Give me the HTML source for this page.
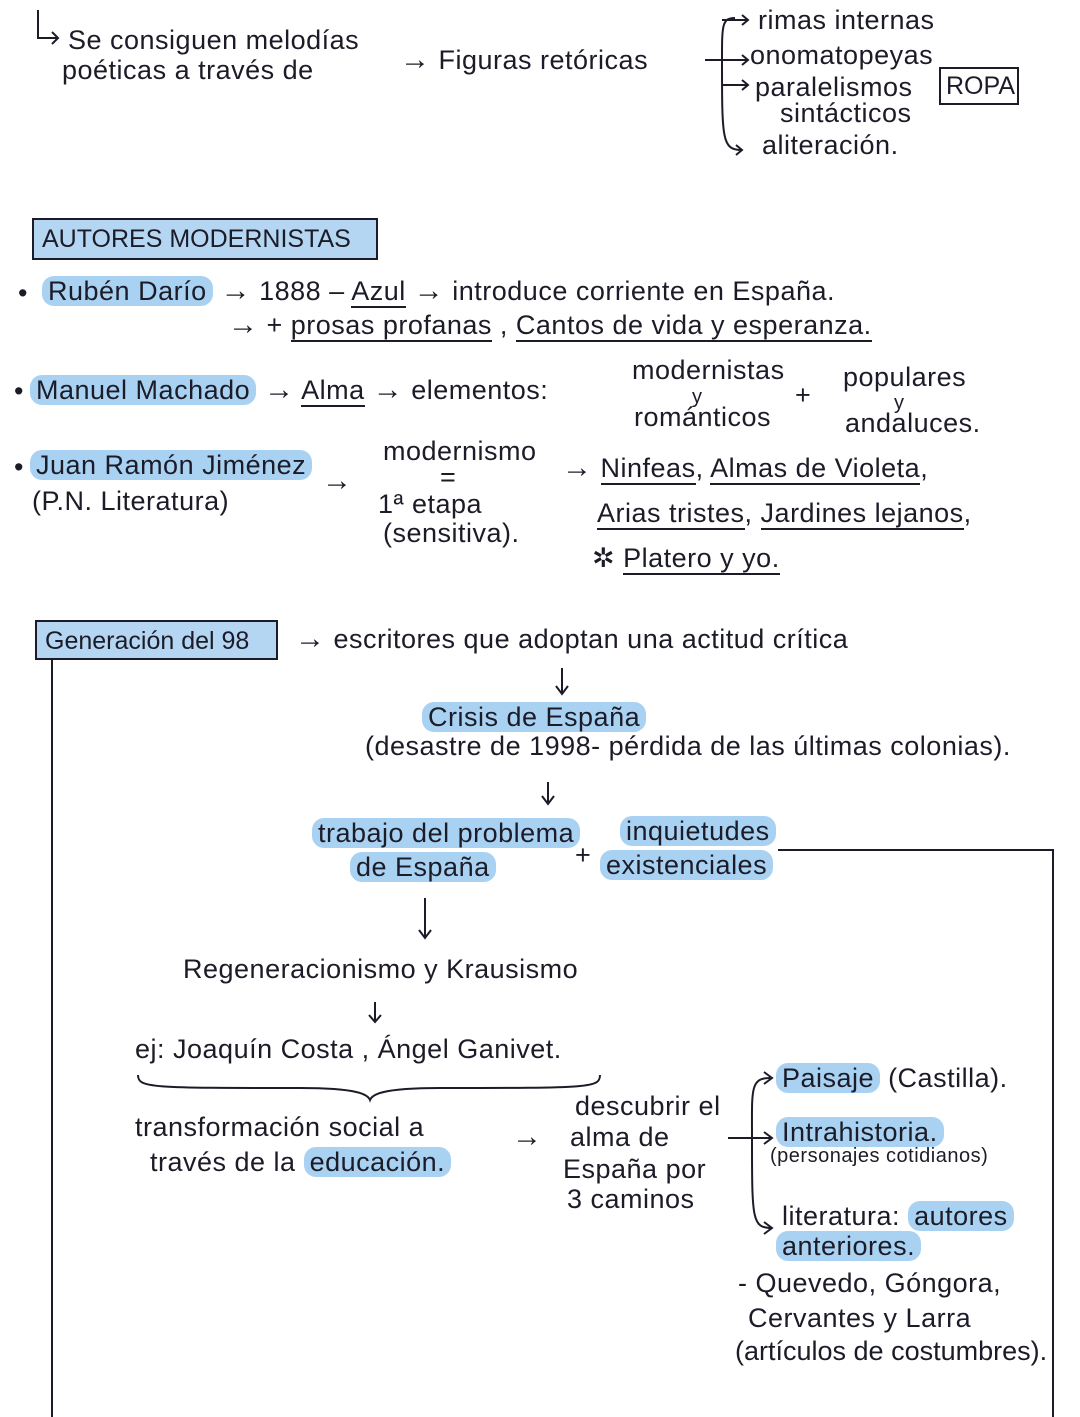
<!DOCTYPE html>
<html><head><meta charset="utf-8"><style>
html,body{margin:0;padding:0;background:#fff;}
body{width:1080px;height:1417px;position:relative;overflow:hidden;font-family:"Liberation Sans",sans-serif;color:#1c1c28;}
.t{position:absolute;font-size:27px;line-height:30px;white-space:nowrap;letter-spacing:0.5px;}
.s{font-size:20px;}
.h{background:#a9d2f2;border-radius:12px;padding:0 6px;}
.u{border-bottom:2px solid #1c1c28;}
.a{font-size:30px;}
.box{position:absolute;border:2px solid #1c1c28;background:#b5d6f2;font-size:25px;line-height:38px;padding:0 8px;box-sizing:border-box;}
svg{position:absolute;left:0;top:0;}
</style></head><body>
<svg width="1080" height="1417" fill="none" stroke="#1c1c28" stroke-width="2">
<path d="M38 10 V38 H58 M52 32 L58 38 L52 44"/>
<path d="M735 18 C722 18 722 25 722 60 C722 140 722 150 742 150"/>
<path d="M705 60 H748 M722 20 H748 M722 85 H748"/>
<path d="M742 15 L748 20 L742 25 M742 55 L748 60 L742 65 M742 80 L748 85 L742 90 M736 145 L742 150 L736 155"/>
<rect x="940" y="68" width="78" height="36"/>
<path d="M52 660 V1417"/>
<path d="M778 850 H1053 V1417"/>
<path d="M562 668 V694 M556 686 L562 694 L568 686"/>
<path d="M548 782 V804 M542 796 L548 804 L554 796"/>
<path d="M425 898 V938 M419 930 L425 938 L431 930"/>
<path d="M375 1002 V1022 M369 1015 L375 1022 L381 1015"/>
<path d="M138 1075 C138 1088 150 1088 300 1088 C360 1088 368 1095 370 1100 C372 1095 380 1088 440 1088 C590 1088 600 1088 600 1075"/>
<path d="M770 1078 C750 1078 752 1090 752 1138 C752 1220 752 1228 772 1228 M728 1138 H772"/>
<path d="M764 1072 L772 1078 L764 1084 M764 1132 L772 1138 L764 1144 M764 1222 L772 1228 L764 1234"/>
</svg>

<div class="t" style="left:68px;top:25px">Se consiguen melodías</div>
<div class="t" style="left:62px;top:55px">poéticas a través de</div>
<div class="t" style="left:400px;top:45px"><span class="a">→</span> Figuras retóricas</div>
<div class="t" style="left:758px;top:5px">rimas internas</div>
<div class="t" style="left:750px;top:40px">onomatopeyas</div>
<div class="t" style="left:755px;top:72px">paralelismos</div>
<div class="t" style="left:780px;top:98px">sintácticos</div>
<div class="t" style="left:762px;top:130px">aliteración.</div>
<div class="t" style="left:946px;top:71px;font-size:25px;letter-spacing:0">ROPA</div>

<div class="box" style="left:32px;top:218px;width:346px;height:42px">AUTORES MODERNISTAS</div>

<div class="t" style="left:18px;top:278px">•</div>
<div class="t" style="left:42px;top:276px"><span class="h">Rubén Darío</span> <span class="a">→</span> 1888 – <span class="u">Azul</span> <span class="a">→</span> introduce corriente en España.</div>
<div class="t" style="left:228px;top:310px"><span class="a">→</span> + <span class="u">prosas profanas</span> , <span class="u">Cantos de vida y esperanza.</span></div>

<div class="t" style="left:14px;top:376px">•</div>
<div class="t" style="left:30px;top:375px"><span class="h">Manuel Machado</span> <span class="a">→</span> <span class="u">Alma</span> <span class="a">→</span> elementos:</div>
<div class="t" style="left:632px;top:355px">modernistas</div>
<div class="t s" style="left:692px;top:382px">y</div>
<div class="t" style="left:634px;top:402px">románticos</div>
<div class="t" style="left:795px;top:380px">+</div>
<div class="t" style="left:843px;top:362px">populares</div>
<div class="t s" style="left:894px;top:388px">y</div>
<div class="t" style="left:845px;top:408px">andaluces.</div>

<div class="t" style="left:14px;top:452px">•</div>
<div class="t" style="left:30px;top:450px"><span class="h">Juan Ramón Jiménez</span></div>
<div class="t" style="left:32px;top:486px">(P.N. Literatura)</div>
<div class="t a" style="left:322px;top:466px">→</div>
<div class="t" style="left:383px;top:436px">modernismo</div>
<div class="t" style="left:440px;top:462px">=</div>
<div class="t" style="left:378px;top:489px">1ª etapa</div>
<div class="t" style="left:383px;top:518px">(sensitiva).</div>
<div class="t" style="left:562px;top:453px"><span class="a">→</span> <span class="u">Ninfeas</span>, <span class="u">Almas de Violeta</span>,</div>
<div class="t" style="left:597px;top:498px"><span class="u">Arias tristes</span>, <span class="u">Jardines lejanos</span>,</div>
<div class="t" style="left:592px;top:543px">✲ <span class="u">Platero y yo.</span></div>

<div class="box" style="left:35px;top:620px;width:243px;height:40px">Generación del 98</div>
<div class="t" style="left:295px;top:624px"><span class="a">→</span> escritores que adoptan una actitud crítica</div>
<div class="t" style="left:422px;top:702px"><span class="h">Crisis de España</span></div>
<div class="t" style="left:365px;top:731px">(desastre de 1998- pérdida de las últimas colonias).</div>
<div class="t" style="left:312px;top:818px"><span class="h">trabajo del problema</span></div>
<div class="t" style="left:350px;top:852px"><span class="h">de España</span></div>
<div class="t" style="left:575px;top:840px">+</div>
<div class="t" style="left:620px;top:816px"><span class="h">inquietudes</span></div>
<div class="t" style="left:600px;top:850px"><span class="h">existenciales</span></div>
<div class="t" style="left:183px;top:954px">Regeneracionismo y Krausismo</div>
<div class="t" style="left:135px;top:1034px">ej: Joaquín Costa , Ángel Ganivet.</div>
<div class="t" style="left:135px;top:1112px">transformación social a</div>
<div class="t" style="left:150px;top:1147px">través de la <span class="h">educación.</span></div>
<div class="t a" style="left:512px;top:1122px">→</div>
<div class="t" style="left:575px;top:1091px">descubrir el</div>
<div class="t" style="left:570px;top:1122px">alma de</div>
<div class="t" style="left:563px;top:1154px">España por</div>
<div class="t" style="left:567px;top:1184px">3 caminos</div>
<div class="t" style="left:776px;top:1063px"><span class="h">Paisaje</span> (Castilla).</div>
<div class="t" style="left:776px;top:1117px"><span class="h">Intrahistoria.</span></div>
<div class="t s" style="left:770px;top:1141px">(personajes cotidianos)</div>
<div class="t" style="left:782px;top:1201px">literatura: <span class="h">autores</span></div>
<div class="t" style="left:776px;top:1231px"><span class="h">anteriores.</span></div>
<div class="t" style="left:738px;top:1268px">- Quevedo, Góngora,</div>
<div class="t" style="left:748px;top:1303px">Cervantes y Larra</div>
<div class="t" style="left:735px;top:1336px;letter-spacing:0">(artículos de costumbres).</div>
</body></html>
